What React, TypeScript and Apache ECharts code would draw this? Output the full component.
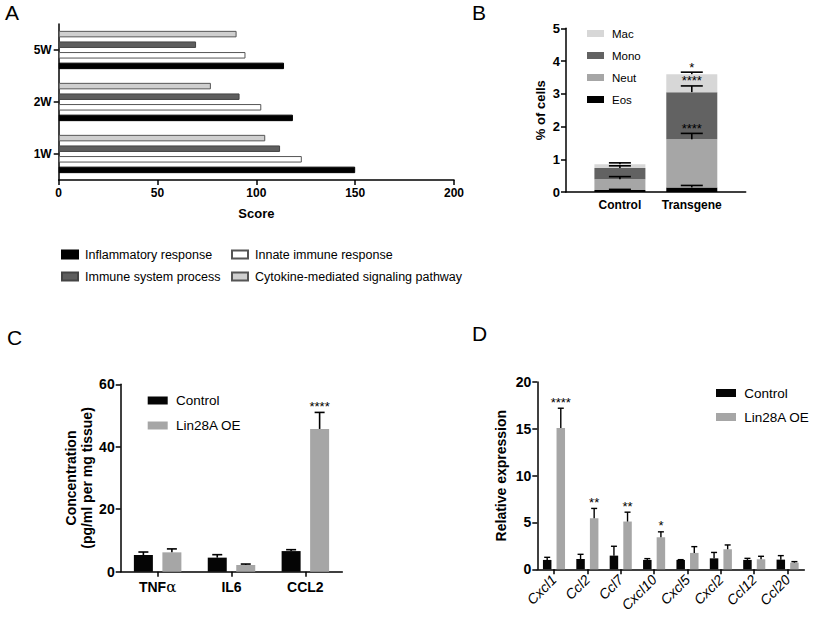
import React, { useEffect, useRef } from 'react';
import * as echarts from 'echarts';

const FONT = '"Liberation Sans", Arial, sans-serif';

// ---------- Panel A ----------
const aCategories = ['1W', '2W', '5W'];
const aInflammatory = [150, 118.5, 114];
const aInnate = [123, 102.5, 94.5];
const aImmuneSystem = [112, 91.5, 69.5];
const aCytokine = [104.5, 77, 90];

// ---------- Panel B ----------
const bCategories = ['Control', 'Transgene'];
const bEos = [0.06, 0.14];
const bNeut = [0.33, 1.47];
const bMono = [0.34, 1.44];
const bMac = [0.12, 0.55];
const bEosErr = [0.02, 0.06];
const bNeutErr = [0.08, 0.18];
const bMonoErr = [0.07, 0.19];
const bMacErr = [0.04, 0.06];
const bEosSig = ['', ''];
const bNeutSig = ['', '****'];
const bMonoSig = ['', '****'];
const bMacSig = ['', '*'];

// ---------- Panel C ----------
const cCategories = ['TNFα', 'IL6', 'CCL2'];
const cControl = [5.35, 4.5, 6.6];
const cControlErr = [0.95, 0.95, 0.45];
const cLin28 = [6.2, 2.15, 45.7];
const cLin28Err = [1.1, 0.3, 5.3];
const cControlSig = ['', '', ''];
const cLin28Sig = ['', '', '****'];

// ---------- Panel D ----------
const dCategories = ['Cxcl1', 'Ccl2', 'Ccl7', 'Cxcl10', 'Cxcl5', 'Cxcl2', 'Ccl12', 'Ccl20'];
const dControl = [1.0, 1.1, 1.46, 1.0, 1.0, 1.17, 1.0, 1.03];
const dControlErr = [0.28, 0.5, 1.0, 0.14, 0.03, 0.63, 0.17, 0.43];
const dLin28 = [15.1, 5.45, 5.1, 3.42, 1.75, 2.14, 1.07, 0.71];
const dLin28Err = [2.1, 1.05, 1.0, 0.58, 0.67, 0.46, 0.32, 0.11];
const dControlSig = ['', '', '', '', '', '', '', ''];
const dLin28Sig = ['****', '**', '**', '*', '', '', '', ''];

// B uses padded category slots so the two stacks sit where the original places them
const bSlots = [1, 3];
const bAxisCats = ['', '', '', '', ''].map((_, i) => {
  const k = bSlots.indexOf(i);
  return k >= 0 ? bCategories[k] : '';
});
const padB = (arr: number[]) => bAxisCats.map((_, i) => {
  const k = bSlots.indexOf(i);
  return k >= 0 ? arr[k] : '-';
});

const BLACK = '#000000';

const axisLine = { show: true, lineStyle: { color: BLACK, width: 1.5 } };
const axisTick = { show: true, length: 5, lineStyle: { color: BLACK, width: 1.5 } };

function errorSeries(opts: {
  xAxisIndex: number; yAxisIndex: number; xs: number[]; lows: number[]; highs: number[];
  sigs: string[]; offset: number; capW: number; lw: number; sigFont: number; sigGap: number;
}) {
  const { xAxisIndex, yAxisIndex, xs, lows, highs, sigs, offset, capW, lw, sigFont, sigGap } = opts;
  return {
    type: 'custom',
    xAxisIndex, yAxisIndex,
    z: 5,
    silent: true,
    encode: { x: 0, y: [1, 2] },
    data: xs.map((x, i) => [x, lows[i], highs[i]]),
    renderItem: (params: any, api: any) => {
      const xi = api.value(0);
      const lo = api.value(1);
      const hi = api.value(2);
      const p0 = api.coord([xi, lo]);
      const p1 = api.coord([xi, hi]);
      const x = p0[0] + offset;
      const children: any[] = [
        { type: 'line', shape: { x1: x, y1: p0[1], x2: x, y2: p1[1] }, style: { stroke: BLACK, lineWidth: lw } },
        { type: 'line', shape: { x1: x - capW / 2, y1: p1[1], x2: x + capW / 2, y2: p1[1] }, style: { stroke: BLACK, lineWidth: lw } },
      ];
      const s = sigs[params.dataIndex];
      if (s) {
        children.push({
          type: 'text', x, y: p1[1] - sigGap,
          style: {
            text: s, fill: BLACK, font: `${sigFont}px ${FONT}`,
            textAlign: 'center', textVerticalAlign: 'middle', align: 'center', verticalAlign: 'middle',
          },
        });
      }
      return { type: 'group', children };
    },
  };
}

function cumulative(...arrs: number[][]) {
  return arrs[0].map((_, i) => arrs.reduce((s, a) => s + a[i], 0));
}

export default function App() {
  const ref = useRef<HTMLDivElement>(null);

  useEffect(() => {
    if (!ref.current) return;
    const chart = echarts.init(ref.current, undefined, { renderer: 'svg' });

    // Panel A bar layout
    const aBarW = 6.5;
    // Panel C bar layout
    const cBarW = 19, cGap = 0.5;
    const cOff = (cBarW * (1 + cGap)) / 2;
    // Panel D bar layout
    const dBarW = 8.5, dGap = 0.6;
    const dOff = (dBarW * (1 + dGap)) / 2;

    const bTopEos = cumulative(bEos);
    const bTopNeut = cumulative(bEos, bNeut);
    const bTopMono = cumulative(bEos, bNeut, bMono);
    const bTopMac = cumulative(bEos, bNeut, bMono, bMac);

    const bErrLows = [...bTopEos, ...bTopNeut, ...bTopMono, ...bTopMac];
    const bErrHighs = [
      ...bTopEos.map((v, i) => v + bEosErr[i]),
      ...bTopNeut.map((v, i) => v + bNeutErr[i]),
      ...bTopMono.map((v, i) => v + bMonoErr[i]),
      ...bTopMac.map((v, i) => v + bMacErr[i]),
    ];
    const bErrXs = [...bSlots, ...bSlots, ...bSlots, ...bSlots];
    const bErrSigs = [...bEosSig, ...bNeutSig, ...bMonoSig, ...bMacSig];

    const legendText = (size: number, pad: number) => ({
      color: BLACK, fontFamily: FONT, fontSize: size, padding: [0, 0, 0, pad],
    });

    const option: any = {
      animation: false,
      backgroundColor: '#ffffff',
      textStyle: { fontFamily: FONT },
      graphic: [
        { type: 'text', left: 5, top: 2, style: { text: 'A', font: `21px ${FONT}`, fill: BLACK } },
        { type: 'text', left: 472, top: 2, style: { text: 'B', font: `21px ${FONT}`, fill: BLACK } },
        { type: 'text', left: 7, top: 327, style: { text: 'C', font: `21px ${FONT}`, fill: BLACK } },
        { type: 'text', left: 472, top: 323, style: { text: 'D', font: `21px ${FONT}`, fill: BLACK } },
      ],
      grid: [
        { left: 58.7, top: 24, width: 395.3, height: 156 },
        { left: 566, top: 28.3, width: 179.7, height: 163.7 },
        { left: 120.7, top: 384.3, width: 221.6, height: 187.4 },
        { left: 537.3, top: 382, width: 267, height: 187.3 },
      ],
      legend: [
        {
          left: 56, top: 243, orient: 'vertical', selectedMode: false, icon: 'rect',
          itemWidth: 16, itemHeight: 8, itemGap: 9,
          data: ['Inflammatory response', 'Immune system process'],
          textStyle: legendText(12.5, 2),
        },
        {
          left: 226, top: 243, orient: 'vertical', selectedMode: false, icon: 'rect',
          itemWidth: 16, itemHeight: 8, itemGap: 9,
          data: ['Innate immune response', 'Cytokine-mediated signaling pathway'],
          textStyle: legendText(12.5, 2),
        },
        {
          left: 582, top: 22.5, orient: 'vertical', selectedMode: false, icon: 'rect',
          itemWidth: 17, itemHeight: 7, itemGap: 10,
          data: ['Mac', 'Mono', 'Neut', 'Eos'],
          textStyle: legendText(11.5, 3),
        },
        {
          left: 142.7, top: 388.5, orient: 'vertical', selectedMode: false, icon: 'rect',
          itemWidth: 20, itemHeight: 8, itemGap: 11,
          data: ['Control', 'Lin28A OE'],
          textStyle: legendText(13.5, 3.3),
        },
        {
          left: 711, top: 381, orient: 'vertical', selectedMode: false, icon: 'rect',
          itemWidth: 20, itemHeight: 8, itemGap: 10,
          data: ['Control', 'Lin28A OE'],
          textStyle: legendText(13.5, 3.2),
        },
      ],
      xAxis: [
        {
          gridIndex: 0, type: 'value', min: 0, max: 200, interval: 50,
          axisLine, axisTick, splitLine: { show: false },
          axisLabel: { color: BLACK, fontWeight: 'bold', fontSize: 12, margin: 7 },
          name: 'Score', nameLocation: 'middle', nameGap: 27,
          nameTextStyle: { color: BLACK, fontWeight: 'bold', fontSize: 13 },
        },
        {
          gridIndex: 1, type: 'category', data: bAxisCats,
          axisLine, axisTick: { show: false },
          axisLabel: { color: BLACK, fontWeight: 'bold', fontSize: 12, margin: 7, interval: 0 },
        },
        {
          gridIndex: 2, type: 'category', data: cCategories,
          axisLine, axisTick: { ...axisTick, alignWithLabel: true },
          axisLabel: {
            color: BLACK, fontWeight: 'bold', fontSize: 14, margin: 8, interval: 0,
            formatter: (v: string) => v.replace('α', '{g|α}'),
            rich: { g: { fontFamily: '"DejaVu Serif", serif', fontWeight: 'normal', fontSize: 15, color: BLACK } },
          },
        },
        {
          gridIndex: 3, type: 'category', data: dCategories,
          axisLine, axisTick: { ...axisTick, alignWithLabel: true },
          axisLabel: { color: BLACK, fontStyle: 'italic', fontSize: 14, rotate: 45, margin: 8, interval: 0 },
        },
      ],
      yAxis: [
        {
          gridIndex: 0, type: 'category', data: aCategories,
          axisLine, axisTick: { ...axisTick, alignWithLabel: true },
          axisLabel: { color: BLACK, fontWeight: 'bold', fontSize: 12, margin: 7 },
        },
        {
          gridIndex: 1, type: 'value', min: 0, max: 5, interval: 1,
          axisLine, axisTick, splitLine: { show: false },
          axisLabel: { color: BLACK, fontWeight: 'bold', fontSize: 13, margin: 6 },
          name: '% of cells', nameLocation: 'middle', nameGap: 19,
          nameTextStyle: { color: BLACK, fontWeight: 'bold', fontSize: 13 },
        },
        {
          gridIndex: 2, type: 'value', min: 0, max: 60, interval: 20,
          axisLine, axisTick, splitLine: { show: false },
          axisLabel: { color: BLACK, fontWeight: 'bold', fontSize: 14, margin: 6 },
          name: 'Concentration\n(pg/ml per mg tissue)', nameLocation: 'middle', nameGap: 26,
          nameTextStyle: { color: BLACK, fontWeight: 'bold', fontSize: 14, lineHeight: 16 },
        },
        {
          gridIndex: 3, type: 'value', min: 0, max: 20, interval: 5,
          axisLine, axisTick, splitLine: { show: false },
          axisLabel: { color: BLACK, fontWeight: 'bold', fontSize: 14, margin: 6 },
          name: 'Relative expression', nameLocation: 'middle', nameGap: 29,
          nameTextStyle: { color: BLACK, fontWeight: 'bold', fontSize: 14 },
        },
      ],
      series: [
        // Panel A (first series is drawn topmost within each group)
        {
          name: 'Cytokine-mediated signaling pathway', type: 'bar', xAxisIndex: 0, yAxisIndex: 0,
          data: aCytokine, barWidth: aBarW, barGap: '63%',
          itemStyle: { color: '#cfcfcf', borderColor: '#555555', borderWidth: 1 },
        },
        {
          name: 'Immune system process', type: 'bar', xAxisIndex: 0, yAxisIndex: 0,
          data: aImmuneSystem, barWidth: aBarW, barGap: '63%',
          itemStyle: { color: '#5e5e5e', borderColor: '#444444', borderWidth: 1 },
        },
        {
          name: 'Innate immune response', type: 'bar', xAxisIndex: 0, yAxisIndex: 0,
          data: aInnate, barWidth: aBarW, barGap: '63%',
          itemStyle: { color: '#ffffff', borderColor: '#555555', borderWidth: 1 },
        },
        {
          name: 'Inflammatory response', type: 'bar', xAxisIndex: 0, yAxisIndex: 0,
          data: aInflammatory, barWidth: aBarW, barGap: '63%',
          itemStyle: { color: '#000000', borderColor: '#000000', borderWidth: 1 },
        },
        // Panel B
        {
          name: 'Eos', type: 'bar', stack: 'cells', xAxisIndex: 1, yAxisIndex: 1,
          data: padB(bEos), barWidth: 51, itemStyle: { color: '#000000' },
        },
        {
          name: 'Neut', type: 'bar', stack: 'cells', xAxisIndex: 1, yAxisIndex: 1,
          data: padB(bNeut), barWidth: 51, itemStyle: { color: '#a6a6a6' },
        },
        {
          name: 'Mono', type: 'bar', stack: 'cells', xAxisIndex: 1, yAxisIndex: 1,
          data: padB(bMono), barWidth: 51, itemStyle: { color: '#626262' },
        },
        {
          name: 'Mac', type: 'bar', stack: 'cells', xAxisIndex: 1, yAxisIndex: 1,
          data: padB(bMac), barWidth: 51, itemStyle: { color: '#d7d7d7' },
        },
        errorSeries({
          xAxisIndex: 1, yAxisIndex: 1, xs: bErrXs, lows: bErrLows, highs: bErrHighs,
          sigs: bErrSigs, offset: 0, capW: 22, lw: 1.6, sigFont: 13, sigGap: 5,
        }),
        // Panel C
        {
          name: 'Control', type: 'bar', xAxisIndex: 2, yAxisIndex: 2,
          data: cControl, barWidth: cBarW, barGap: `${cGap * 100}%`, itemStyle: { color: '#050505' },
        },
        {
          name: 'Lin28A OE', type: 'bar', xAxisIndex: 2, yAxisIndex: 2,
          data: cLin28, barWidth: cBarW, barGap: `${cGap * 100}%`, itemStyle: { color: '#a6a6a6' },
        },
        errorSeries({
          xAxisIndex: 2, yAxisIndex: 2, xs: cCategories.map((_, i) => i), lows: cControl,
          highs: cControl.map((v, i) => v + cControlErr[i]), sigs: cControlSig,
          offset: -cOff, capW: 10, lw: 1.6, sigFont: 13, sigGap: 6,
        }),
        errorSeries({
          xAxisIndex: 2, yAxisIndex: 2, xs: cCategories.map((_, i) => i), lows: cLin28,
          highs: cLin28.map((v, i) => v + cLin28Err[i]), sigs: cLin28Sig,
          offset: cOff, capW: 10, lw: 1.6, sigFont: 13, sigGap: 6,
        }),
        // Panel D
        {
          name: 'Control', type: 'bar', xAxisIndex: 3, yAxisIndex: 3,
          data: dControl, barWidth: dBarW, barGap: `${dGap * 100}%`, itemStyle: { color: '#050505' },
        },
        {
          name: 'Lin28A OE', type: 'bar', xAxisIndex: 3, yAxisIndex: 3,
          data: dLin28, barWidth: dBarW, barGap: `${dGap * 100}%`, itemStyle: { color: '#a6a6a6' },
        },
        errorSeries({
          xAxisIndex: 3, yAxisIndex: 3, xs: dCategories.map((_, i) => i), lows: dControl,
          highs: dControl.map((v, i) => v + dControlErr[i]), sigs: dControlSig,
          offset: -dOff, capW: 6, lw: 1.4, sigFont: 13, sigGap: 6,
        }),
        errorSeries({
          xAxisIndex: 3, yAxisIndex: 3, xs: dCategories.map((_, i) => i), lows: dLin28,
          highs: dLin28.map((v, i) => v + dLin28Err[i]), sigs: dLin28Sig,
          offset: dOff, capW: 6, lw: 1.4, sigFont: 13, sigGap: 6,
        }),
      ],
    };

    chart.setOption(option);
    return () => chart.dispose();
  }, []);

  return (
    <div
      ref={ref}
      style={{ position: 'absolute', left: 0, top: 0, width: 824, height: 625, background: '#fff' }}
    />
  );
}
